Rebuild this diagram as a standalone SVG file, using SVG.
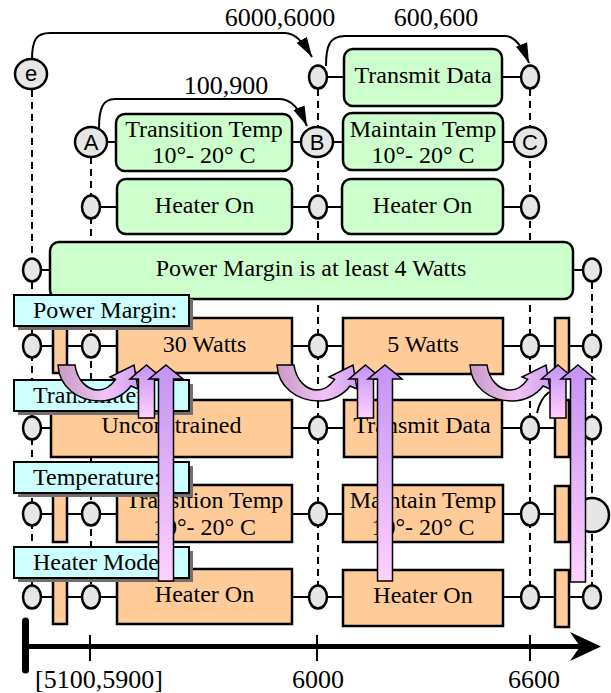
<svg xmlns="http://www.w3.org/2000/svg" width="611" height="693" viewBox="0 0 611 693">
<defs>
<style>
.t{font-family:"Liberation Serif","Times New Roman",serif;font-size:24px;fill:#000;text-anchor:middle}
.n{font-family:"Liberation Serif","Times New Roman",serif;font-size:26px;fill:#000;text-anchor:middle}
.lt{font-family:"Liberation Serif","Times New Roman",serif;font-size:24px;fill:#000}
.c{font-family:"Liberation Sans",Arial,sans-serif;font-size:22px;fill:#000;text-anchor:middle}
.g{fill:#ccffcc;stroke:#000;stroke-width:2.5}
.o{fill:#ffcc99;stroke:#000;stroke-width:2.5}
.p{fill:#e6e6e6;stroke:#000;stroke-width:2.5}
.d{stroke:#000;stroke-width:2;stroke-dasharray:7 5;fill:none}
.h{stroke:#000;stroke-width:2;fill:none}
.lab{fill:#ccffff;stroke:#000;stroke-width:2}
.sh{fill:#707070}
.sa{stroke:#000;stroke-width:1.5;fill:url(#gv)}
.ca{stroke:#000;stroke-width:1.5;fill:url(#gc)}
</style>
<linearGradient id="gv" x1="0" y1="0" x2="0" y2="1"><stop offset="0" stop-color="#c493f5"/><stop offset="1" stop-color="#ffd0ff"/></linearGradient>
<linearGradient id="gc" x1="0" y1="0" x2="1" y2="0"><stop offset="0" stop-color="#c699c6"/><stop offset="0.6" stop-color="#f0c4f4"/><stop offset="1" stop-color="#d0a0f4"/></linearGradient>
<marker id="ah" markerUnits="userSpaceOnUse" viewBox="0 0 20 12" refX="20" refY="6" markerWidth="20" markerHeight="12" orient="auto"><path d="M0,0 L20,6 L0,12 z" fill="#000"/></marker>
<path id="cur" d="M0,0 C1,22 20,36 42,36 C56,36 67,29 73,21 L80,24 L76,0 L52,12 L57.6,14.4 C53,21 47,25 40,25 C29,25 19,15 17,0 Z"/>
</defs>
<rect width="611" height="693" fill="#fff"/>

<g id="connectors">
<path class="d" d="M32,90 V597 M91,157 V597 M318,77 V597 M530,77 V597 M592,270 V597"/>
<path class="h" d="M318,77 H530 M91,142 H530 M91,207 H530 M32,270 H592 M32,346 H592 M32,428 H592 M32,514 H592 M32,597 H592"/>
<path class="h" marker-end="url(#ah)" d="M32,60 C32,40 36,33 50,33 L285,33 C295,33 303,42 312,57"/>
<path class="h" marker-end="url(#ah)" d="M99,128 C99,108 103,99 115,99 L280,99 C292,99 300,110 307,126"/>
<path class="h" marker-end="url(#ah)" d="M326,66 C326,45 330,36 345,36 L505,36 C515,36 523,48 529,63"/>
<text class="n" x="280" y="26">6000,6000</text>
<text class="n" x="226" y="94">100,900</text>
<text class="n" x="436" y="26">600,600</text>
<path class="h" stroke-width="1.5" d="M537,413 Q540,399 549,392"/>
</g>

<g id="n-transmit-g"><rect class="g" x="344" y="49" width="158" height="57" rx="9"/><text class="t" x="423" y="83">Transmit Data</text></g>
<g id="n-transition-g"><rect class="g" x="116" y="114" width="176" height="57" rx="9"/><text class="t" x="204" y="137">Transition Temp</text><text class="t" x="204" y="163">10°- 20° C</text></g>
<g id="n-maintain-g"><rect class="g" x="343" y="113" width="160" height="57" rx="9"/><text class="t" x="423" y="137">Maintain Temp</text><text class="t" x="423" y="163">10°- 20° C</text></g>
<g id="n-heater-g1"><rect class="g" x="117" y="179" width="175" height="55" rx="9"/><text class="t" x="204.5" y="213">Heater On</text></g>
<g id="n-heater-g2"><rect class="g" x="342" y="179" width="161" height="55" rx="9"/><text class="t" x="422.5" y="213">Heater On</text></g>
<g id="n-power-g"><rect class="g" x="50" y="242" width="523" height="57" rx="9"/><text class="t" x="311" y="276">Power Margin is at least 4 Watts</text></g>

<g id="n-pm-bar1"><rect class="o" x="53" y="318" width="14" height="55"/></g>
<g id="n-pm-30"><rect class="o" x="117" y="318" width="175" height="55"/><text class="t" x="204.5" y="352">30 Watts</text></g>
<g id="n-pm-5"><rect class="o" x="343" y="318" width="160" height="56"/><text class="t" x="423" y="352">5 Watts</text></g>
<g id="n-pm-bar2"><rect class="o" x="555" y="318" width="14" height="56"/></g>
<g id="n-tx-unc"><rect class="o" x="51" y="400" width="241" height="57"/><text class="t" x="171.5" y="433">Unconstrained</text></g>
<g id="n-tx-data"><rect class="o" x="344" y="400" width="158" height="57"/><text class="t" x="422" y="433">Transmit Data</text></g>
<g id="n-tx-bar2"><rect class="o" x="555" y="400" width="14" height="57"/></g>
<g id="n-tp-bar1"><rect class="o" x="53" y="485" width="14" height="57"/></g>
<g id="n-tp-trans"><rect class="o" x="117" y="485" width="175" height="57"/><text class="t" x="204.5" y="508">Transition Temp</text><text class="t" x="204.5" y="535">10°- 20° C</text></g>
<g id="n-tp-maint"><rect class="o" x="343" y="485" width="160" height="57"/><text class="t" x="423" y="508">Maintain Temp</text><text class="t" x="423" y="535">10°- 20° C</text></g>
<g id="n-tp-bar2"><rect class="o" x="555" y="486" width="14" height="56"/></g>
<g id="n-hm-bar1"><rect class="o" x="53" y="569" width="14" height="55"/></g>
<g id="n-hm-on1"><rect class="o" x="117" y="569" width="175" height="55"/><text class="t" x="204.5" y="602">Heater On</text></g>
<g id="n-hm-on2"><rect class="o" x="343" y="570" width="160" height="56"/><text class="t" x="423" y="603">Heater On</text></g>
<g id="n-hm-bar2"><rect class="o" x="555" y="570" width="14" height="57"/></g>

<g id="n-e"><ellipse class="p" cx="31" cy="74" rx="16" ry="15"/><text class="c" x="31" y="81">e</text></g>
<g id="n-A"><ellipse class="p" cx="91" cy="142" rx="16" ry="15"/><text class="c" x="91" y="150">A</text></g>
<g id="n-B"><ellipse class="p" cx="317" cy="142" rx="16" ry="15"/><text class="c" x="317" y="150">B</text></g>
<g id="n-C"><ellipse class="p" cx="530" cy="142" rx="16" ry="15"/><text class="c" x="530" y="150">C</text></g>
<g id="n-r0a"><ellipse class="p" cx="318" cy="77" rx="9" ry="11.5"/></g>
<g id="n-r0b"><ellipse class="p" cx="530" cy="77" rx="9" ry="11.5"/></g>
<g id="n-r2a"><ellipse class="p" cx="91" cy="207" rx="9" ry="11.5"/></g>
<g id="n-r2b"><ellipse class="p" cx="318" cy="207" rx="9" ry="11.5"/></g>
<g id="n-r2c"><ellipse class="p" cx="530" cy="207" rx="9" ry="11.5"/></g>
<g id="n-r3a"><ellipse class="p" cx="32" cy="270" rx="9" ry="11.5"/></g>
<g id="n-r3b"><ellipse class="p" cx="592" cy="270" rx="9" ry="11.5"/></g>
<g id="n-r4a"><ellipse class="p" cx="32" cy="346" rx="9" ry="11.5"/></g>
<g id="n-r4b"><ellipse class="p" cx="91" cy="346" rx="9" ry="11.5"/></g>
<g id="n-r4c"><ellipse class="p" cx="318" cy="346" rx="9" ry="11.5"/></g>
<g id="n-r4d"><ellipse class="p" cx="530" cy="346" rx="9" ry="11.5"/></g>
<g id="n-r4e"><ellipse class="p" cx="592" cy="346" rx="9" ry="11.5"/></g>
<g id="n-r5a"><ellipse class="p" cx="32" cy="428" rx="9" ry="11.5"/></g>
<g id="n-r5c"><ellipse class="p" cx="318" cy="428" rx="9" ry="11.5"/></g>
<g id="n-r5d"><ellipse class="p" cx="530" cy="428" rx="9" ry="11.5"/></g>
<g id="n-r5e"><ellipse class="p" cx="592" cy="428" rx="9" ry="11.5"/></g>
<g id="n-r6a"><ellipse class="p" cx="32" cy="514" rx="9" ry="11.5"/></g>
<g id="n-r6b"><ellipse class="p" cx="91" cy="514" rx="9" ry="11.5"/></g>
<g id="n-r6c"><ellipse class="p" cx="318" cy="514" rx="9" ry="11.5"/></g>
<g id="n-r6d"><ellipse class="p" cx="530" cy="514" rx="9" ry="11.5"/></g>
<g id="n-r6e"><circle class="p" cx="592" cy="515" r="17"/></g>
<g id="n-r7a"><ellipse class="p" cx="32" cy="597" rx="9" ry="11.5"/></g>
<g id="n-r7b"><ellipse class="p" cx="91" cy="597" rx="9" ry="11.5"/></g>
<g id="n-r7c"><ellipse class="p" cx="318" cy="597" rx="9" ry="11.5"/></g>
<g id="n-r7d"><ellipse class="p" cx="530" cy="597" rx="9" ry="11.5"/></g>
<g id="n-r7e"><ellipse class="p" cx="592" cy="597" rx="9" ry="11.5"/></g>

<g id="lab-power"><rect class="sh" x="18" y="299" width="175" height="31"/><rect class="lab" x="14" y="295" width="175" height="31"/><text class="lt" x="33" y="318">Power Margin:</text></g>
<g id="lab-tx"><rect class="sh" x="18" y="384" width="175" height="31"/><rect class="lab" x="14" y="380" width="175" height="31"/><text class="lt" x="33" y="403">Transmitter:</text></g>
<g id="lab-temp"><rect class="sh" x="18" y="466" width="175" height="31"/><rect class="lab" x="14" y="462" width="175" height="31"/><text class="lt" x="33" y="485">Temperature:</text></g>
<g id="lab-heat"><rect class="sh" x="18" y="551" width="175" height="31"/><rect class="lab" x="14" y="547" width="175" height="31"/><text class="lt" x="33" y="570">Heater Mode:</text></g>

<g id="arrows1">
<use href="#cur" class="ca" x="58" y="365"/>
<path class="sa" d="M146.5,365 L163,379 L154.5,379 L154.5,418 L138.5,418 L138.5,379 L130,379 Z"/>
<path class="sa" d="M166,365 L183,379 L173.5,379 L173.5,581 L158.5,581 L158.5,379 L149,379 Z"/>
</g>
<g id="arrows2">
<use href="#cur" class="ca" x="277" y="365"/>
<path class="sa" d="M365.5,365 L382,379 L373.5,379 L373.5,418 L357.5,418 L357.5,379 L349,379 Z"/>
<path class="sa" d="M385,365 L402,379 L392.5,379 L392.5,581 L377.5,581 L377.5,379 L368,379 Z"/>
</g>
<g id="arrows3">
<use href="#cur" class="ca" x="470" y="365"/>
<path class="sa" d="M558,365 L574.5,379 L566,379 L566,418 L550,418 L550,379 L541.5,379 Z"/>
<path class="sa" d="M578,365 L595,379 L585.5,379 L585.5,582 L570.5,582 L570.5,379 L561,379 Z"/>
</g>

<g id="axis">
<path d="M25,646.5 H585" stroke="#000" stroke-width="5"/>
<path d="M601,646.5 L570,632 L580,646.5 L570,661 Z" fill="#000"/>
<path d="M25.5,621 V670" stroke="#000" stroke-width="7" stroke-linecap="round"/>
<path d="M90,635 V661 M317,635 V661 M530,635 V661" stroke="#000" stroke-width="2"/>
<text class="n" x="99" y="688">[5100,5900]</text>
<text class="n" x="318" y="688">6000</text>
<text class="n" x="534" y="688">6600</text>
</g>
</svg>
